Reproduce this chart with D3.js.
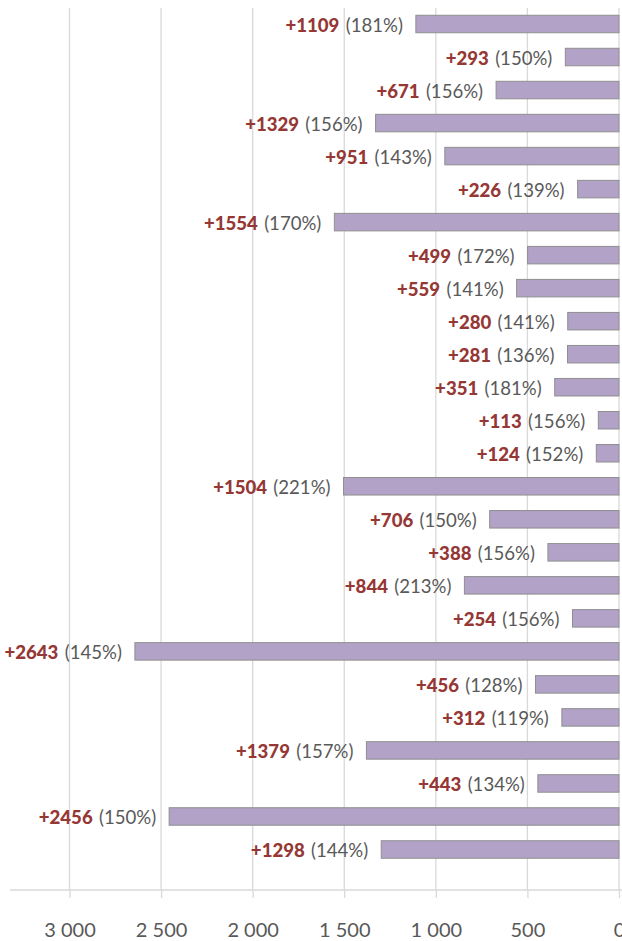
<!DOCTYPE html>
<html>
<head>
<meta charset="utf-8">
<script src="https://cdn.jsdelivr.net/npm/d3@7"></script>
<style>
  body { margin: 0; background: #fff; }
  svg { display: block; font-family: Lato, "Open Sans", sans-serif; }
</style>
</head>
<body>
<svg id="chart"></svg>
<script>
// values, top to bottom
const increases = [1109, 293, 671, 1329, 951, 226, 1554, 499, 559, 280, 281, 351, 113,
                   124, 1504, 706, 388, 844, 254, 2643, 456, 312, 1379, 443, 2456, 1298];
const percents = [181, 150, 156, 156, 143, 139, 170, 172, 141, 141, 136, 181, 156,
                  152, 221, 150, 156, 213, 156, 145, 128, 119, 157, 134, 150, 144];
const tickValues = [0, 500, 1000, 1500, 2000, 2500, 3000];

const width = 622;
const height = 941;

const svg = d3.select("#chart")
  .attr("width", width)
  .attr("height", height);

// reversed axis: 0 on the right
const x = d3.scaleLinear().domain([0, 3000]).range([619, 69.5]);
const y = d3.scaleBand()
  .domain(d3.range(increases.length))
  .range([7.5, 866])
  .paddingInner(0.47)
  .paddingOuter(0.235);

const axisY = 890;
const fmt = d3.formatLocale({ decimal: ",", thousands: " ", grouping: [3], currency: ["", ""] }).format(",d");

// gridlines
svg.append("g")
  .selectAll("line")
  .data(tickValues)
  .join("line")
  .attr("x1", d => x(d)).attr("x2", d => x(d))
  .attr("y1", 8).attr("y2", axisY)
  .attr("stroke", "#d9d9d9")
  .attr("stroke-width", 1.3);

// axis line
svg.append("line")
  .attr("x1", 10).attr("x2", width)
  .attr("y1", axisY).attr("y2", axisY)
  .attr("stroke", "#d9d9d9")
  .attr("stroke-width", 1.5);

const axis = svg.append("g")
  .attr("transform", `translate(0,${axisY})`)
  .call(d3.axisBottom(x).tickValues(tickValues).tickSize(8).tickPadding(25).tickFormat(fmt));
axis.select(".domain").remove();
axis.selectAll(".tick line").attr("stroke", "#d9d9d9").attr("stroke-width", 1.3);
axis.selectAll(".tick text")
  .attr("fill", "#595959")
  .style("font-size", "20px")
  .style("font-family", "Lato, sans-serif");

// bars
svg.append("g")
  .selectAll("rect")
  .data(increases)
  .join("rect")
  .attr("x", d => x(d))
  .attr("y", (d, i) => y(i))
  .attr("width", d => x(0) - x(d))
  .attr("height", y.bandwidth())
  .attr("fill", "#b2a2c7")
  .attr("stroke", "#8f8f8f")
  .attr("stroke-width", 1);

// labels
const labels = svg.append("g")
  .selectAll("text")
  .data(increases)
  .join("text")
  .attr("x", d => x(d) - 13)
  .attr("y", (d, i) => y(i) + y.bandwidth() / 2 + 1)
  .attr("dy", "0.36em")
  .attr("text-anchor", "end")
  .style("font-size", "18.6px");

labels.append("tspan")
  .attr("fill", "#953735")
  .attr("font-weight", "900")
  .text(d => "+" + d);

labels.append("tspan")
  .attr("fill", "#595959")
  .attr("dx", 1.5)
  .text((d, i) => " (" + percents[i] + "%)");
</script>
</body>
</html>
